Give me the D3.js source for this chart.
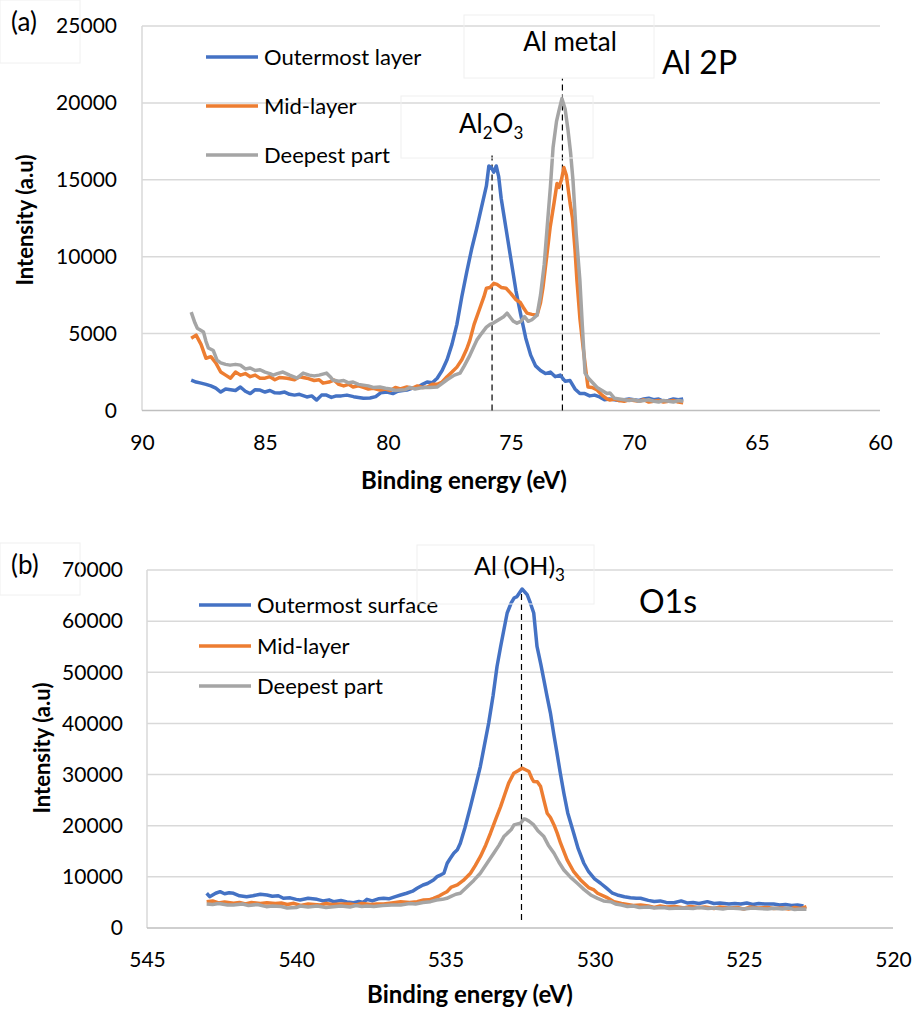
<!DOCTYPE html>
<html>
<head>
<meta charset="utf-8">
<script src="https://cdn.jsdelivr.net/npm/d3@7"></script>
<style>
  body { margin: 0; background: #fff; }
  svg text { font-family: Lato, "Open Sans", sans-serif; fill: #000; }
</style>
</head>
<body>
<div id="grafico"></div>
<script>
// ---- datos (a) Al 2p : [energia eV, intensidad]
const al2pOuter = [[88.0,1980],[87.8,1850],[87.6,1780],[87.4,1700],[87.2,1600],[87.0,1450],[86.8,1200],[86.6,1400],[86.4,1350],[86.2,1300],[86.0,1525],[85.8,1250],[85.6,1100],[85.4,1350],[85.2,1330],[85.0,1200],[84.8,1300],[84.6,1150],[84.4,1140],[84.2,1200],[84.0,1050],[83.8,1000],[83.6,1050],[83.3,880],[83.1,950],[82.9,680],[82.7,1000],[82.5,1000],[82.3,850],[82.1,950],[81.9,950],[81.67,1000],[81.4,900],[81.2,850],[81.0,800],[80.73,810],[80.5,900],[80.3,1150],[80.04,1200],[79.8,1100],[79.6,1250],[79.4,1300],[79.23,1330],[79.0,1450],[78.8,1500],[78.6,1700],[78.41,1850],[78.2,1800],[78.0,2100],[77.8,2600],[77.6,3300],[77.4,4300],[77.2,5600],[77.0,7400],[76.8,9000],[76.6,10500],[76.4,11800],[76.2,13200],[76.0,14600],[75.9,15900],[75.8,15800],[75.7,15500],[75.6,15900],[75.5,15200],[75.4,13800],[75.3,12800],[75.2,11800],[75.0,9800],[74.8,7800],[74.6,6200],[74.4,4700],[74.2,3600],[74.0,2900],[73.8,2600],[73.6,2400],[73.4,2500],[73.2,2200],[73.0,2300],[72.8,1900],[72.6,1950],[72.4,1400],[72.2,1100],[72.0,1100],[71.8,950],[71.6,1000],[71.4,880],[71.2,700],[71.0,750],[70.8,700],[70.6,650],[70.4,700],[70.2,750],[70.0,700],[69.8,650],[69.6,750],[69.4,800],[69.2,700],[69.0,750],[68.8,600],[68.6,650],[68.4,750],[68.2,700],[68.0,750]];
const al2pMid = [[88.0,4700],[87.8,4900],[87.6,4300],[87.4,3400],[87.2,3500],[87.0,3100],[86.8,2500],[86.6,2300],[86.4,2100],[86.2,2500],[86.0,2300],[85.8,2400],[85.6,2200],[85.4,2300],[85.2,2100],[85.0,2100],[84.8,2200],[84.6,2000],[84.4,2150],[84.1,2100],[83.8,2000],[83.6,2200],[83.3,2100],[83.0,1950],[82.8,2000],[82.64,1780],[82.4,1850],[82.2,1980],[82.0,1700],[81.8,1600],[81.6,1700],[81.42,1525],[81.2,1600],[81.0,1500],[80.8,1400],[80.6,1450],[80.33,1330],[80.1,1400],[79.9,1300],[79.7,1500],[79.5,1400],[79.23,1525],[79.0,1450],[78.8,1600],[78.6,1500],[78.4,1530],[78.2,1700],[78.0,1700],[77.8,1850],[77.6,2200],[77.4,2500],[77.2,2820],[77.0,3300],[76.8,4000],[76.67,4575],[76.5,5600],[76.3,6500],[76.1,7400],[76.0,7950],[75.85,8000],[75.7,8270],[75.57,8200],[75.4,8000],[75.2,7950],[75.0,7600],[74.8,7200],[74.63,7040],[74.5,6700],[74.35,6330],[74.15,6250],[73.94,6200],[73.8,7000],[73.7,8000],[73.55,10000],[73.41,11900],[73.25,13500],[73.13,14760],[73.05,14500],[72.95,15000],[72.85,15800],[72.75,15300],[72.6,13500],[72.5,12500],[72.4,10500],[72.32,8460],[72.2,6000],[72.07,4120],[71.95,2500],[71.87,1525],[71.7,1500],[71.5,1330],[71.3,1000],[71.1,750],[70.98,680],[70.8,750],[70.6,650],[70.4,600],[70.2,700],[70.0,650],[69.8,600],[69.6,700],[69.4,550],[69.2,600],[69.0,650],[68.8,550],[68.6,600],[68.4,650],[68.2,550],[68.0,500]];
const al2pDeep = [[88.0,6400],[87.85,5700],[87.75,5350],[87.6,5200],[87.5,5100],[87.4,4500],[87.3,4060],[87.1,3900],[86.95,3280],[86.8,3100],[86.6,3000],[86.42,2950],[86.2,3000],[86.0,2950],[85.8,2700],[85.6,2760],[85.4,2600],[85.2,2650],[85.0,2500],[84.8,2400],[84.67,2300],[84.5,2400],[84.27,2500],[84.0,2300],[83.85,2200],[83.7,2100],[83.45,2430],[83.2,2300],[83.0,2250],[82.8,2300],[82.5,2430],[82.35,2200],[82.24,1980],[82.0,1900],[81.8,1950],[81.6,1800],[81.42,1850],[81.2,1700],[81.0,1650],[80.8,1600],[80.6,1500],[80.33,1525],[80.1,1450],[79.9,1400],[79.7,1300],[79.5,1330],[79.3,1350],[79.1,1500],[78.9,1400],[78.7,1460],[78.5,1500],[78.3,1500],[78.0,1525],[77.89,1650],[77.6,2000],[77.3,2300],[77.07,2430],[76.9,2900],[76.7,3500],[76.5,4200],[76.39,4575],[76.2,5000],[76.0,5420],[75.85,5600],[75.7,5700],[75.5,5900],[75.3,6100],[75.16,6330],[75.0,6000],[74.9,5800],[74.76,5680],[74.6,5800],[74.45,6100],[74.3,5800],[74.15,5900],[73.94,6200],[73.8,7500],[73.65,9500],[73.54,11710],[73.4,14500],[73.29,17100],[73.15,18800],[73.05,19500],[72.93,20280],[72.8,19600],[72.68,18200],[72.58,16800],[72.48,14960],[72.35,11500],[72.2,8470],[72.1,5500],[71.99,2430],[71.85,2100],[71.67,1790],[71.5,1500],[71.3,1300],[71.1,1100],[70.98,1140],[70.8,800],[70.6,750],[70.4,700],[70.2,650],[70.0,700],[69.8,600],[69.6,650],[69.4,700],[69.2,600],[69.0,550],[68.8,650],[68.6,600],[68.4,550],[68.2,650],[68.0,600]];

// ---- datos (b) O 1s
const o1sOuter = [[543.0,6790],[542.9,6125],[542.7,6800],[542.55,7100],[542.4,6700],[542.25,6900],[542.1,6790],[541.9,6300],[541.66,6125],[541.45,6300],[541.2,6600],[540.98,6460],[540.8,6200],[540.6,6300],[540.43,5810],[540.2,5900],[540.0,5600],[539.87,5480],[539.6,5800],[539.3,5600],[539.1,5300],[538.9,5500],[538.75,5150],[538.5,5400],[538.3,5100],[538.08,4950],[537.9,5200],[537.75,5000],[537.63,5600],[537.45,5300],[537.25,5700],[537.07,5810],[536.9,5700],[536.7,6100],[536.5,6460],[536.3,6790],[536.1,7200],[535.95,7770],[535.75,8415],[535.6,8700],[535.4,9390],[535.28,10040],[535.15,10400],[535.05,10700],[534.94,12660],[534.85,13500],[534.72,14620],[534.6,15300],[534.5,16580],[534.35,19500],[534.16,23740],[534.0,27500],[533.83,31570],[533.7,35500],[533.55,40060],[533.4,45500],[533.27,51140],[533.15,55000],[533.04,58320],[532.93,61590],[532.8,63500],[532.7,64520],[532.6,64800],[532.43,66280],[532.26,65170],[532.15,63500],[532.04,61590],[531.93,55050],[531.8,51500],[531.7,48530],[531.6,45500],[531.48,42020],[531.37,38000],[531.26,34190],[531.15,30300],[531.03,26360],[530.9,22500],[530.7,18530],[530.55,15500],[530.36,12660],[530.2,11000],[530.0,9600],[529.8,8750],[529.6,7800],[529.4,6800],[529.24,6460],[529.0,6100],[528.8,5900],[528.6,5800],[528.46,5810],[528.2,5400],[528.0,5200],[527.8,5300],[527.6,5000],[527.34,4950],[527.1,5300],[526.9,4900],[526.7,5000],[526.5,4800],[526.22,5150],[526.0,4800],[525.8,4900],[525.5,4700],[525.3,4800],[525.1,4700],[524.9,4900],[524.7,4600],[524.5,4800],[524.3,4700],[524.0,4700],[523.8,4500],[523.6,4600],[523.4,4400],[523.2,4500],[523.0,4300]];
const o1sMid = [[543.0,5150],[542.8,5300],[542.6,4900],[542.4,5100],[542.1,4830],[541.9,5000],[541.7,4700],[541.5,5000],[541.2,4800],[540.98,4950],[540.7,4800],[540.5,4900],[540.3,4600],[540.08,4830],[539.85,4400],[539.6,4700],[539.4,4600],[539.2,4500],[539.0,4800],[538.8,4600],[538.5,4700],[538.2,4700],[538.0,4500],[537.8,4800],[537.5,4600],[537.3,4700],[537.07,4700],[536.8,4900],[536.5,5150],[536.2,5000],[535.95,5150],[535.73,5480],[535.55,5500],[535.4,5810],[535.2,6300],[535.05,6790],[534.95,7100],[534.8,8000],[534.6,8415],[534.4,9300],[534.16,10700],[534.0,12200],[533.83,13950],[533.65,16200],[533.49,18530],[533.3,21500],[533.15,23740],[533.0,26300],[532.88,28320],[532.71,30270],[532.55,30800],[532.43,31250],[532.3,30900],[532.2,30590],[532.1,29200],[532.04,28630],[531.92,28600],[531.81,27650],[531.7,25000],[531.59,22450],[531.48,21600],[531.36,20160],[531.25,18500],[531.14,16575],[530.92,13310],[530.7,11000],[530.47,9390],[530.2,7900],[530.02,7440],[529.9,6790],[529.6,6000],[529.35,5150],[529.1,4800],[528.9,4600],[528.7,4400],[528.46,4500],[528.2,4300],[528.0,4000],[527.8,4300],[527.6,4100],[527.3,4200],[527.0,3900],[526.8,4200],[526.5,4000],[526.3,4100],[526.0,3800],[525.8,4100],[525.5,3900],[525.2,4000],[525.0,3700],[524.8,4100],[524.5,3900],[524.2,4000],[524.0,3800],[523.7,3900],[523.5,3700],[523.3,4000],[523.1,3800],[522.9,4170]];
const o1sDeep = [[543.0,4700],[542.8,4600],[542.6,4800],[542.3,4500],[542.1,4500],[541.8,4700],[541.6,4400],[541.3,4600],[541.0,4170],[540.8,4300],[540.5,4200],[540.3,3900],[540.0,4000],[539.87,4300],[539.6,4100],[539.3,4300],[539.0,4000],[538.75,4170],[538.5,4300],[538.2,4100],[538.0,4400],[537.8,4200],[537.63,4300],[537.4,4200],[537.1,4400],[536.8,4500],[536.5,4500],[536.2,4800],[536.0,4700],[535.75,5000],[535.5,5150],[535.3,5480],[535.1,5600],[534.95,5810],[534.83,6125],[534.65,6600],[534.5,6790],[534.27,8080],[534.05,9300],[533.83,10700],[533.6,12700],[533.38,14620],[533.2,16200],[533.04,17870],[532.93,18500],[532.8,19200],[532.7,20160],[532.55,20400],[532.48,20490],[532.37,21300],[532.31,21270],[532.2,20900],[532.04,20160],[531.9,19000],[531.7,17870],[531.55,16200],[531.36,14620],[531.2,12900],[531.03,11350],[530.8,9900],[530.58,8750],[530.35,7500],[530.13,6460],[529.9,5800],[529.7,5300],[529.46,5150],[529.3,4700],[529.1,4500],[528.9,4200],[528.7,4300],[528.5,4000],[528.2,4100],[528.0,3900],[527.7,4000],[527.5,3800],[527.3,3850],[527.0,3900],[526.7,3800],[526.5,4000],[526.2,3800],[526.0,3900],[525.7,3700],[525.5,3900],[525.2,3800],[525.0,3700],[524.7,3900],[524.5,3800],[524.2,3700],[524.0,3850],[523.7,3700],[523.5,3900],[523.3,3600],[523.1,3700],[522.9,3660]];

const al2pXTicks = [90, 85, 80, 75, 70, 65, 60];
const al2pYTicks = [0, 5000, 10000, 15000, 20000, 25000];
const o1sXTicks = [545, 540, 535, 530, 525, 520];
const o1sYTicks = [0, 10000, 20000, 30000, 40000, 50000, 60000, 70000];

const al2pLegend = ["Outermost layer", "Mid-layer", "Deepest part"];
const o1sLegend = ["Outermost surface", "Mid-layer", "Deepest part"];
const colores = ["#4472c4", "#ed7d31", "#a5a5a5"];

// picos marcados: [energia, desde, hasta]
const al2pPeaks = [[75.77, 0, 16580], [72.91, 0, 21580]];
const o1sPeaks = [[532.45, 1560, 66140]];

const svg = d3.select("#grafico").append("svg")
  .attr("width", 915).attr("height", 1013);

function panel(cfg) {
  const x = d3.scaleLinear().domain(cfg.xDomain).range(cfg.xRange);
  const y = d3.scaleLinear().domain(cfg.yDomain).range(cfg.yRange);
  const g = svg.append("g");

  // grid
  g.append("g").selectAll("line")
    .data(cfg.yTicks.filter(d => d > 0))
    .join("line")
    .attr("x1", cfg.xRange[0]).attr("x2", cfg.xRange[1])
    .attr("y1", d => y(d)).attr("y2", d => y(d))
    .attr("stroke", "#d9d9d9").attr("stroke-width", 1.5);

  // ejes
  g.append("line")
    .attr("x1", cfg.xRange[0]).attr("x2", cfg.xRange[0])
    .attr("y1", y(cfg.yDomain[0])).attr("y2", y(cfg.yDomain[1]))
    .attr("stroke", "#d9d9d9").attr("stroke-width", 1.5);
  g.append("line")
    .attr("x1", cfg.xRange[0]).attr("x2", cfg.xRange[1])
    .attr("y1", y(0)).attr("y2", y(0))
    .attr("stroke", "#bfbfbf").attr("stroke-width", 1.5);

  const ax = g.append("g")
    .attr("transform", `translate(0,${y(0)})`)
    .call(d3.axisBottom(x).tickValues(cfg.xTicks).tickSize(0).tickPadding(cfg.xPad).tickFormat(d3.format("d")));
  ax.select(".domain").remove();
  ax.selectAll("text").style("font-size", "21px").attr("fill", "#000");

  const ay = g.append("g")
    .attr("transform", `translate(${cfg.xRange[0]},0)`)
    .call(d3.axisLeft(y).tickValues(cfg.yTicks).tickSize(0).tickPadding(cfg.yPad).tickFormat(d3.format("d")));
  ay.select(".domain").remove();
  ay.selectAll("text").style("font-size", "21px").attr("fill", "#000");

  // titulos
  g.append("text")
    .attr("x", cfg.xTitle[0]).attr("y", cfg.xTitle[1])
    .attr("text-anchor", "middle")
    .style("font-size", "24px").style("font-weight", "bold")
    .text("Binding energy (eV)");
  g.append("text")
    .attr("transform", `translate(${cfg.yTitle[0]},${cfg.yTitle[1]}) rotate(-90)`)
    .attr("text-anchor", "middle")
    .style("font-size", "22px").style("font-weight", "bold")
    .text("Intensity (a.u)");

  // lineas de pico
  g.append("g").selectAll("line")
    .data(cfg.peaks)
    .join("line")
    .attr("x1", d => x(d[0])).attr("x2", d => x(d[0]))
    .attr("y1", d => y(d[1])).attr("y2", d => y(d[2]))
    .attr("stroke", "#000").attr("stroke-width", 1.2)
    .attr("stroke-dasharray", "6,4");

  // series
  const line = d3.line().x(d => x(d[0])).y(d => y(d[1]));
  g.append("g").selectAll("path")
    .data(cfg.series)
    .join("path")
    .attr("d", d => line(d))
    .attr("fill", "none")
    .attr("stroke", (d, i) => colores[i])
    .attr("stroke-width", 3.5)
    .attr("stroke-linejoin", "round");

  // leyenda
  const leg = g.append("g");
  cfg.legend.forEach((name, i) => {
    const yy = cfg.legY[i];
    leg.append("line")
      .attr("x1", cfg.legX).attr("x2", cfg.legX + 52)
      .attr("y1", yy).attr("y2", yy)
      .attr("stroke", colores[i]).attr("stroke-width", 3.5);
    leg.append("text")
      .attr("x", cfg.legX + 58).attr("y", yy + 8)
      .style("font-size", "22px")
      .text(name);
  });
  return g;
}

const a = panel({
  xDomain: [90, 60], xRange: [142, 880],
  yDomain: [0, 25000], yRange: [410.5, 26],
  xTicks: al2pXTicks, yTicks: al2pYTicks, xPad: 24.5, yPad: 25,
  xTitle: [464, 489], yTitle: [33, 220],
  series: [al2pOuter, al2pMid, al2pDeep],
  legend: al2pLegend, legX: 206, legY: [57, 106, 155],
  peaks: al2pPeaks
});

const b = panel({
  xDomain: [545, 520], xRange: [147, 893],
  yDomain: [0, 70000], yRange: [928, 570],
  xTicks: o1sXTicks, yTicks: o1sYTicks, xPad: 24, yPad: 24,
  xTitle: [470, 1003], yTitle: [50, 748],
  series: [o1sOuter, o1sMid, o1sDeep],
  legend: o1sLegend, legX: 199, legY: [605, 646, 686],
  peaks: o1sPeaks
});

// cajas tenues de las etiquetas
const cajas = [[0, 0, 80, 63], [464, 15, 190, 63], [401, 96, 192, 62], [0, 543, 80, 52], [417, 545, 177, 59]];
svg.append("g").selectAll("rect")
  .data(cajas)
  .join("rect")
  .attr("x", d => d[0]).attr("y", d => d[1])
  .attr("width", d => d[2]).attr("height", d => d[3])
  .attr("fill", "none").attr("stroke", "#f0f0f0").attr("stroke-width", 1);

// etiquetas
svg.append("text").attr("x", 11).attr("y", 31).style("font-size", "26px").text("(a)");
svg.append("text").attr("x", 11).attr("y", 574).style("font-size", "26px").text("(b)");

svg.append("text").attr("x", 570).attr("y", 51).attr("text-anchor", "middle")
  .style("font-size", "26px").text("Al metal");
svg.append("text").attr("x", 662).attr("y", 74).style("font-size", "32px").text("Al 2P");

const t1 = svg.append("text").attr("x", 459).attr("y", 133).style("font-size", "26px");
t1.append("tspan").text("Al");
t1.append("tspan").attr("dy", 6).style("font-size", "17px").text("2");
t1.append("tspan").attr("dy", -6).text("O");
t1.append("tspan").attr("dy", 6).style("font-size", "17px").text("3");

const t2 = svg.append("text").attr("x", 474).attr("y", 575).style("font-size", "25px");
t2.append("tspan").text("Al (OH)");
t2.append("tspan").attr("dy", 6).style("font-size", "17px").text("3");

svg.append("text").attr("x", 639).attr("y", 613).style("font-size", "32px").text("O1s");
</script>
</body>
</html>
